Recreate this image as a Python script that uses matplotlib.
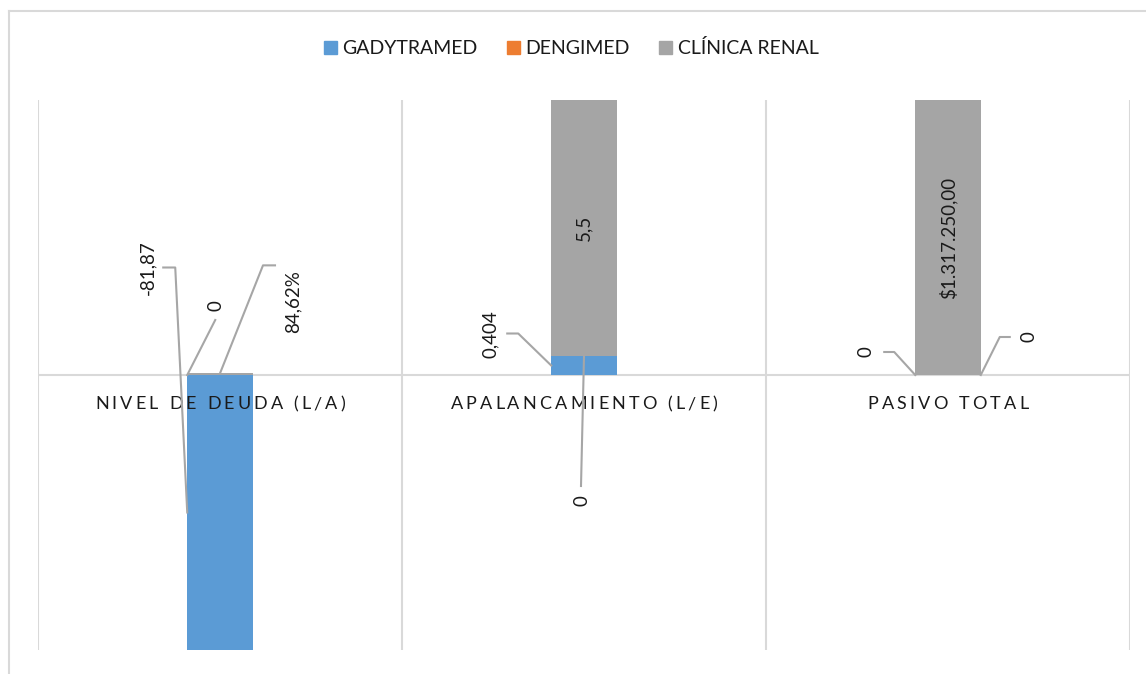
import numpy as np
import matplotlib
matplotlib.use("Agg")
import matplotlib.pyplot as plt
import matplotlib.transforms as mtrans
from matplotlib.patches import Patch
from matplotlib.lines import Line2D

## Datos

categorias = ["NIVEL DE DEUDA (L/A)", "APALANCAMIENTO (L/E)", "PASIVO TOTAL"]
series = ["GADYTRAMED", "DENGIMED", "CLÍNICA RENAL"]
gadytramed = [-81.87, 0.404, 0]
dengimed = [0, 0, 0]
clinica_renal = [0.035, 5.5, 1317250]   # la primera se ve solo como una raya
etiquetas = [["-81,87", "0,404", "0"],
             ["0", "0", "0"],
             ["84,62%", "5,5", "$1.317.250,00"]]
colores = ["#5B9BD5", "#ED7D31", "#A5A5A5"]

## Figura

W, H = 1146, 674
fig = plt.figure(figsize=(W/100, H/100), dpi=100)
plt.rcParams['font.family'] = ['Lato', 'DejaVu Sans']
ax = fig.add_axes([38/W, 24/H, (1130-38)/W, 550/H])

L = 5.85
ancho = 0.18
x = np.arange(len(categorias))
ax.set_xlim(-0.5, 2.5)
ax.set_ylim(-L, L)

base_pos = np.zeros(3)
base_neg = np.zeros(3)
bajos = []
altos = []
for vals, col in zip([gadytramed, dengimed, clinica_renal], colores):
    v = np.array(vals, dtype=float)
    b = np.where(v >= 0, base_pos, base_neg)
    ax.bar(x, v, ancho, bottom=b, color=col, zorder=3)
    bajos.append(b.copy())
    altos.append(b + v)
    base_pos = np.where(v >= 0, base_pos + v, base_pos)
    base_neg = np.where(v < 0, base_neg + v, base_neg)

for xv in [-0.5, 0.5, 1.5, 2.5]:
    ax.axvline(xv, color="#D9D9D9", lw=1.5, zorder=1)
ax.axhline(0, color="#D9D9D9", lw=1.5, zorder=2)
ax.set_xticks([])
ax.set_yticks([])
for s in ax.spines.values():
    s.set_visible(False)

## Etiquetas de datos (posicion en px respecto al punto de anclaje)

disp = {
    (0, 0): ("left", "mid", (-39, -245), [(-12, -245), (-24, -245)]),
    (1, 0): ("left", "base", (29, -69), [(28, -55)]),
    (2, 0): ("center", "top", (73, -72), [(43, -108), (55, -108)]),
    (0, 1): ("left", "mid", (-61, -31), [(-33, -32), (-44, -32)]),
    (1, 1): ("center", "base", (-2, 145), [(-3, 130)]),
    (0, 2): ("left", "base", (-49, -23), [(-21, -23), (-31, -23)]),
    (1, 2): ("right", "base", (48, -38), [(19, -38), (29, -38)]),
}

color_txt = "#1a1a1a"
for s in range(3):
    for c in range(3):
        b = bajos[s][c]
        t = altos[s][c]
        tc = np.clip(t, -L, L)
        if (s, c) not in disp:
            ax.text(x[c], (b + tc)/2, etiquetas[s][c], rotation=90,
                    ha="center", va="center", fontsize=13.5, color=color_txt, zorder=5)
            continue
        lado, alt, (dx, dy), linea = disp[(s, c)]
        xa = {"left": x[c] - ancho/2, "center": x[c], "right": x[c] + ancho/2}[lado]
        ya = {"mid": (b + tc)/2, "base": b, "top": tc}[alt]
        tr = mtrans.offset_copy(ax.transData, fig=fig, x=dx, y=-dy, units="dots")
        ax.text(xa, ya, etiquetas[s][c], transform=tr, rotation=90,
                ha="center", va="center", fontsize=13.5, color=color_txt, zorder=5)
        px, py = ax.transData.transform((xa, ya))
        pts = [(px, py)] + [(px + ox, py - oy) for ox, oy in linea]
        pts = np.array(pts) / np.array([W, H])
        fig.add_artist(Line2D(pts[:, 0], pts[:, 1], color="#A6A6A6", lw=1.5,
                              transform=fig.transFigure, zorder=4))

## Etiquetas de categoria con espaciado

def texto_espaciado(s, xc, yc, extra, **kw):
    r = fig.canvas.get_renderer()
    def ancho_txt(t):
        tt = fig.text(0, 0, t, **kw)
        e = tt.get_window_extent(r).width
        tt.remove()
        return e
    base = ancho_txt("ii")
    ws = [ancho_txt("i" + ch + "i") - base for ch in s]
    total = sum(ws) + extra*(len(s) - 1)
    xp = xc - total/2
    for ch, wc in zip(s, ws):
        fig.text(xp/W, 1 - yc/H, ch, ha="left", va="center", **kw)
        xp += wc + extra

for c, nombre in enumerate(categorias):
    xc = ax.transData.transform((x[c], 0))[0]
    texto_espaciado(nombre, xc, 404, 3.15, fontsize=13, color="#1a1a1a")

## Leyenda y borde

manejadores = [Patch(color=col) for col in colores]
fig.legend(manejadores, series, loc="center", bbox_to_anchor=(571/W, 1 - 48/H),
           ncol=3, frameon=False, fontsize=14, handlelength=0.68, handleheight=0.68,
           handletextpad=0.28, columnspacing=1.5, labelcolor="#1a1a1a")

fig.add_artist(Line2D([9/W, 9/W], [1 - 11/H, -0.1], color="#D9D9D9", lw=1.5,
                      transform=fig.transFigure))
fig.add_artist(Line2D([9/W, 1.1], [1 - 11/H, 1 - 11/H], color="#D9D9D9", lw=1.5,
                      transform=fig.transFigure))

fig.savefig("out.png", dpi=100)
